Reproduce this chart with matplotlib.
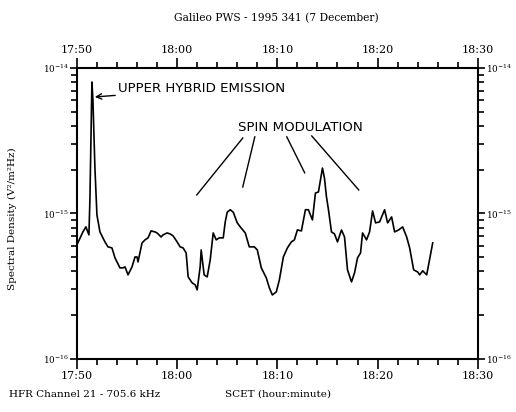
import matplotlib
matplotlib.use("Agg")
import matplotlib.pyplot as plt
import numpy as np
from matplotlib.ticker import MultipleLocator, LogLocator, NullFormatter

# minutes after 17:50 SCET
minutes = [0.0, 0.6, 0.9, 1.2, 1.3, 1.5, 1.6, 1.8, 2.0, 2.3, 2.8, 3.1, 3.5, 3.8,
           4.3, 4.6, 4.8, 5.1, 5.5, 5.8, 6.0, 6.1, 6.5, 6.8, 7.1, 7.4, 7.8, 8.0,
           8.4, 8.6, 9.0, 9.3, 9.6, 10.0, 10.3, 10.6, 10.9, 11.1, 11.5, 11.8,
           12.0, 12.3, 12.4, 12.6, 12.7, 13.0, 13.3, 13.6, 13.9, 14.2, 14.6,
           14.8, 15.0, 15.3, 15.6, 16.0, 16.3, 16.8, 17.2, 17.7, 18.0, 18.4,
           18.9, 19.2, 19.5, 19.9, 20.2, 20.6, 21.0, 21.4, 21.7, 22.0, 22.4,
           22.8, 23.1, 23.5, 23.8, 24.1, 24.5, 24.7, 24.9, 25.1, 25.4, 25.7,
           26.0, 26.4, 26.7, 27.0, 27.4, 27.7, 28.0, 28.3, 28.5, 28.9, 29.2,
           29.5, 29.8, 30.2, 30.7, 31.0, 31.4, 31.7, 32.1, 32.5, 32.9, 33.2,
           33.6, 34.0, 34.2, 34.5, 34.9, 35.5]
# spectral density in units of 1e-16 V^2/m^2Hz
density = [6.07, 7.46, 8.08, 7.12, 12.4, 80.1, 60.3, 20.5, 9.77, 7.46, 6.37,
           5.89, 5.79, 4.95, 4.22, 4.22, 4.29, 3.78, 4.29, 5.02, 5.02, 4.64,
           6.27, 6.58, 6.79, 7.58, 7.46, 7.34, 6.89, 7.12, 7.34, 7.23, 7.01,
           6.37, 5.89, 5.79, 5.35, 3.66, 3.33, 3.23, 2.98, 4.29, 5.61, 4.29,
           3.78, 3.66, 4.79, 7.34, 6.58, 6.79, 6.79, 8.74, 10.2, 10.6, 10.2,
           8.61, 8.08, 7.34, 5.89, 5.89, 5.61, 4.22, 3.60, 3.08, 2.75, 2.89,
           3.49, 5.02, 5.79, 6.37, 6.58, 7.70, 7.58, 10.6, 10.6, 9.02, 13.8,
           14.05, 20.5, 17.5, 13.0, 10.6, 7.46, 7.23, 6.37, 7.70, 6.89, 4.09,
           3.38, 3.90, 4.95, 5.35, 7.34, 6.58, 7.46, 10.4, 8.61, 8.74, 10.6,
           8.61, 9.46, 7.46, 7.70, 8.08, 6.89, 5.79, 4.09, 3.96, 3.78, 4.03,
           3.78, 6.27]
density = np.array(density) * 1e-16

time_ticks = [0, 10, 20, 30, 40]
time_labels = ["17:50", "18:00", "18:10", "18:20", "18:30"]
dens_ticks = [1e-16, 1e-15, 1e-14]
dens_labels = [r"$10^{-16}$", r"$10^{-15}$", r"$10^{-14}$"]

plt.rcParams["mathtext.fontset"] = "dejavuserif"
serif = "DejaVu Serif"

fig = plt.figure(figsize=(5.16, 4.12), dpi=100)
ax = fig.add_axes([0.149, 0.129, 0.777, 0.706])
ax.plot(minutes, density, color="black", lw=1.2)
ax.set_yscale("log")
ax.set_xlim(0, 40)
ax.set_ylim(1e-16, 1e-14)

ax.set_xticks(time_ticks)
ax.set_xticklabels(time_labels, family=serif, fontsize=8)
ax.xaxis.set_minor_locator(MultipleLocator(2))
ax.set_yticks(dens_ticks)
ax.set_yticklabels(dens_labels, family=serif, fontsize=6.3)
ax.yaxis.set_minor_locator(LogLocator(base=10, subs=np.arange(2, 10)))
ax.yaxis.set_minor_formatter(NullFormatter())
ax.tick_params(which="both", direction="out", top=True, right=True,
               labeltop=True, labelright=True, width=1.2, pad=2)
ax.tick_params(axis="y", which="major", length=5, pad=1)
ax.tick_params(axis="x", which="major", length=7)
ax.tick_params(which="minor", length=4)
for s in ax.spines.values():
    s.set_linewidth(1.5)

# annotations
ax.annotate("UPPER HYBRID EMISSION", xy=(1.79, 6.32e-15), xytext=(4.1, 7.2e-15),
            fontsize=9.6, family="DejaVu Sans", va="center", ha="left",
            arrowprops=dict(arrowstyle="->", color="black", lw=1.0,
                            shrinkA=0, shrinkB=0))
ax.text(22.33, 3.87e-15, "SPIN MODULATION", fontsize=9.6, family="DejaVu Sans",
        ha="center", va="center")
spin_from_x = [16.55, 17.75, 20.94, 23.43]
spin_from_y = [3.30e-15, 3.36e-15, 3.36e-15, 3.41e-15]
spin_to_x = [11.96, 16.55, 22.73, 28.12]
spin_to_y = [1.34e-15, 1.52e-15, 1.90e-15, 1.45e-15]
for x0, y0, x1, y1 in zip(spin_from_x, spin_from_y, spin_to_x, spin_to_y):
    ax.plot([x0, x1], [y0, y1], color="black", lw=1.0)

fig.text(0.536, 0.955, "Galileo PWS - 1995 341 (7 December)", family=serif,
         fontsize=7.7, ha="center", va="center")
fig.text(0.025, 0.468, "Spectral Density (V\u00b2/m\u00b2Hz)", family=serif,
         fontsize=7.5, rotation=90, ha="center", va="center")
fig.text(0.018, 0.043, "HFR Channel 21 - 705.6 kHz", family=serif,
         fontsize=7.5, ha="left", va="center")
fig.text(0.437, 0.043, "SCET (hour:minute)", family=serif,
         fontsize=7.5, ha="left", va="center")

fig.savefig("out.png", dpi=100)
plt.close(fig)
